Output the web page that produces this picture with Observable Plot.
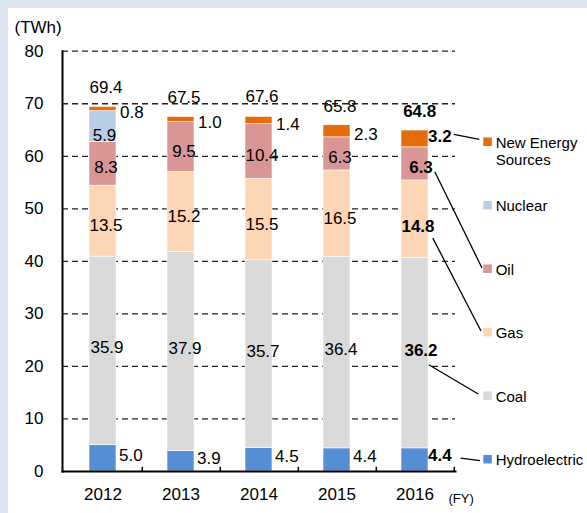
<!DOCTYPE html>
<html><head><meta charset="utf-8">
<script src="https://cdn.jsdelivr.net/npm/d3@7"></script>
<script src="https://cdn.jsdelivr.net/npm/@observablehq/plot@0.6"></script>
<style>body{margin:0;background:#fff;} svg{display:block}</style>
</head><body><div id="chart"></div>
<script>
const years = ["2012","2013","2014","2015","2016"];
const sources = ["Hydroelectric","Coal","Gas","Oil","Nuclear","New Energy Sources"];
const hydro = [5.0,3.9,4.5,4.4,4.4];
const coal = [35.9,37.9,35.7,36.4,36.2];
const gas = [13.5,15.2,15.5,16.5,14.8];
const oil = [8.3,9.5,10.4,6.3,6.3];
const nuclear = [5.9,0,0,0,0];
const newEnergy = [0.8,1.0,1.4,2.3,3.2];
const totals = [69.4,67.5,67.6,65.8,64.8];
const yTicks = [0,10,20,30,40,50,60,70,80];
const gridValues = [10,20,30,40,50,60,70,80];
const colors = ["#558ed5","#d9d9d9","#fcd5b5","#d99694","#b9cde5","#e46c0a"];
const highlightYear = "2016";
const legendOrder = ["New Energy Sources","Nuclear","Oil","Gas","Coal","Hydroelectric"];

const series = [hydro, coal, gas, oil, nuclear, newEnergy];
const records = years.flatMap((year, i) => sources.map((source, j) => ({year, source, value: series[j][i]})));
const totalRows = years.map((year, i) => ({year, total: totals[i]}));

const W = 587, H = 513, mL = 62, mR = 132, mT = 50.7, mB = 42;
const step = (W - mL - mR) / years.length;
const font = "'Liberation Sans', Arial, Helvetica, sans-serif";

// label offsets (normal / bold)
const labelStyle = {
  "Hydroelectric": {n: {dx: 16, dy: -3, a: "start"}, b: {dx: 13, dy: -4, a: "start"}},
  "Coal": {n: {dx: 4, dy: -3, a: "middle"}, b: {dx: 6, dy: -3, a: "middle"}},
  "Gas": {n: {dx: 3, dy: 4.5, a: "middle"}, b: {dx: 3, dy: 7.7, a: "middle"}},
  "Oil": {n: {dx: 3, dy: 4, a: "middle"}, b: {dx: 6, dy: 4, a: "middle"}},
  "Nuclear": {n: {dx: 1.5, dy: 9.4, a: "middle"}, b: {dx: 1.5, dy: 9.4, a: "middle"}},
  "New Energy Sources": {n: {dx: 17, dy: 3.5, a: "start"}, b: {dx: 13, dy: -2.7, a: "start"}}
};

function segLabel(source, bold) {
  const s = bold ? labelStyle[source].b : labelStyle[source].n;
  return Plot.text(records, Plot.stackY({
    x: "year", y: "value", z: "source", order: sources,
    text: d => (d.source === source && d.value > 0 && ((d.year === highlightYear) === bold)) ? d.value.toFixed(1) : "",
    dx: s.dx, dy: s.dy, textAnchor: s.a, lineAnchor: "middle",
    fontSize: 17, fontWeight: bold ? "bold" : "normal", fill: "#000"
  }));
}

const labelMarks = sources.flatMap(s => [segLabel(s, false), segLabel(s, true)]);

const chart = Plot.plot({
  width: W, height: H,
  marginLeft: mL, marginRight: mR, marginTop: mT, marginBottom: mB,
  style: {fontFamily: font, fontSize: "17px", color: "#000"},
  x: {domain: years, paddingInner: 0.66, paddingOuter: 0.33, axis: null, label: null},
  y: {domain: [0, 80], axis: null, label: null},
  color: {domain: sources, range: colors},
  marks: [
    Plot.ruleY(gridValues, {stroke: "#222", strokeWidth: 1.3, strokeDasharray: "6,4"}),
    Plot.barY(records, {x: "year", y: "value", fill: "source", order: sources, stroke: "white", strokeWidth: 0.6}),
    Plot.frame({anchor: "left", stroke: "#000", strokeWidth: 2}),
    Plot.frame({anchor: "bottom", stroke: "#000", strokeWidth: 2}),
    Plot.ruleX(years, {x: d => d, dx: step / 2, y1: 0, y2: 0.8, stroke: "#000", strokeWidth: 1.5}),
    Plot.axisY({ticks: yTicks, tickSize: 0, tickPadding: 19, fontSize: 17, tickFormat: d => String(d), label: null}),
    Plot.axisX({tickSize: 0, tickPadding: 16.5, fontSize: 17, label: null}),
    ...labelMarks,
    Plot.text(totalRows, {filter: d => d.year !== highlightYear, x: "year", y: "total", text: d => d.total.toFixed(1), dx: 3, dy: -19.5, fontSize: 17, lineAnchor: "middle"}),
    Plot.text(totalRows, {filter: d => d.year === highlightYear, x: "year", y: "total", text: d => d.total.toFixed(1), dx: 4.7, dy: -19.6, fontSize: 17, fontWeight: "bold", lineAnchor: "middle"}),
    Plot.text(["(TWh)"], {text: d => d, frameAnchor: "top-left", dx: -48, dy: -23.7, textAnchor: "start", lineAnchor: "middle", fontSize: 17}),
    Plot.text(["(FY)"], {text: d => d, frameAnchor: "bottom-right", dx: -7, dy: 27, textAnchor: "start", lineAnchor: "middle", fontSize: 13, letterSpacing: 1.5})
  ]
});

chart.style.background = "linear-gradient(to right, #dce6f0 8px, transparent 8px), linear-gradient(to bottom, #dce6f0 8px, #ffffff 8px)";

// Legend and leader lines
const xs = chart.scale("x"), ys = chart.scale("y");
const hi = years.indexOf(highlightYear);
const cx = xs.apply(highlightYear) + xs.bandwidth / 2;
const legendX = 483.3, legendTop = 141.7, legendStep = 63.5, sq = 8.5;
const svg = d3.select(chart);
const g = svg.append("g").attr("font-family", font).attr("font-size", 15).attr("fill", "#000").attr("text-anchor", "start");

const leaderStart = {
  "New Energy Sources": [39.3, -1.3],
  "Oil": [20.3, 4.3],
  "Gas": [18.3, 11.6],
  "Coal": [14.3, 15],
  "Hydroelectric": [46, 2.6]
};
const leaderEnd = {
  "New Energy Sources": [-4, -2.4],
  "Oil": [-1.3, -0.7],
  "Gas": [-2.3, -1.2],
  "Coal": [-5, -1.7],
  "Hydroelectric": [-3.3, 1.5]
};

legendOrder.forEach((src, k) => {
  const j = sources.indexOf(src);
  const ly = legendTop + k * legendStep;
  g.append("rect").attr("x", legendX).attr("y", ly - sq / 2).attr("width", sq).attr("height", sq).attr("fill", colors[j]);
  if (src === "New Energy Sources") {
    g.append("text").attr("x", legendX + 12.4).attr("y", ly + 1.3).attr("dy", "0.35em").text("New Energy");
    g.append("text").attr("x", legendX + 12.4).attr("y", ly + 18.3).attr("dy", "0.35em").text("Sources");
  } else {
    g.append("text").attr("x", legendX + 12.4).attr("y", ly + 1).attr("dy", "0.35em").text(src);
  }
  if (leaderStart[src]) {
    let cum = 0;
    for (let m = 0; m < j; m++) cum += series[m][hi];
    const mid = cum + series[j][hi] / 2;
    const labY = ys.apply(mid) + labelStyle[src].b.dy;
    const [sx, sy] = leaderStart[src];
    const [ex, ey] = leaderEnd[src];
    g.append("line")
      .attr("x1", cx + sx).attr("y1", labY + sy)
      .attr("x2", legendX + ex).attr("y2", ly + ey)
      .attr("stroke", "#000").attr("stroke-width", 1.3);
  }
});

document.getElementById("chart").appendChild(chart);
</script>
</body></html>
